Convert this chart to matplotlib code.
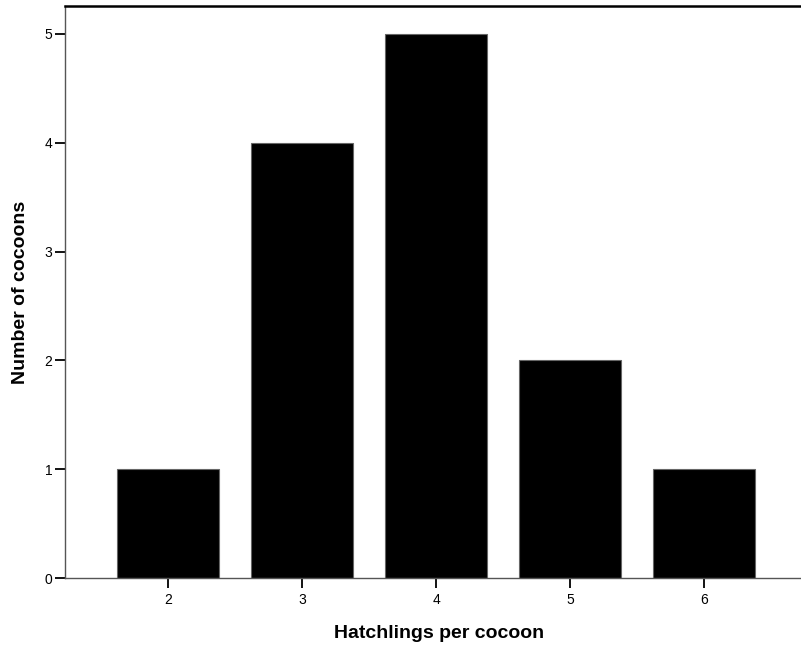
import matplotlib
matplotlib.use("Agg")
import matplotlib.pyplot as plt

hatchlings = [2, 3, 4, 5, 6]
cocoons = [1, 4, 5, 2, 1]
y_ticks = [0, 1, 2, 3, 4, 5]

plt.rcParams['font.family'] = ['Liberation Sans', 'DejaVu Sans']

fig = plt.figure(figsize=(8.01, 6.46), dpi=100)
ax = fig.add_axes([65 / 801, 1 - 578 / 646, 735 / 801, 572 / 646])

ax.bar(hatchlings, cocoons, width=0.76, color='black', edgecolor='#666666', linewidth=0.8)

ax.set_xlim(1.231, 6.716)
ax.set_ylim(0, 5.257)
ax.set_xticks(hatchlings)
ax.set_yticks(y_ticks)
ax.tick_params(axis='both', direction='out', length=7, width=1.3, labelsize=10, colors='black')
ax.tick_params(axis='x', pad=4)
ax.tick_params(axis='y', pad=2)

for side in ('left', 'bottom'):
    ax.spines[side].set_color('#555555')
    ax.spines[side].set_linewidth(1.0)
ax.spines['top'].set_color('black')
ax.spines['top'].set_linewidth(1.8)
ax.spines['right'].set_visible(False)

ax.set_xlabel('Hatchlings per cocoon', fontsize=14, fontweight='bold', labelpad=12)
ax.xaxis.set_label_coords(0.509, -0.083)
ax.set_ylabel('Number of cocoons', fontsize=14, fontweight='bold', labelpad=11)

fig.savefig('out.png', dpi=100)
